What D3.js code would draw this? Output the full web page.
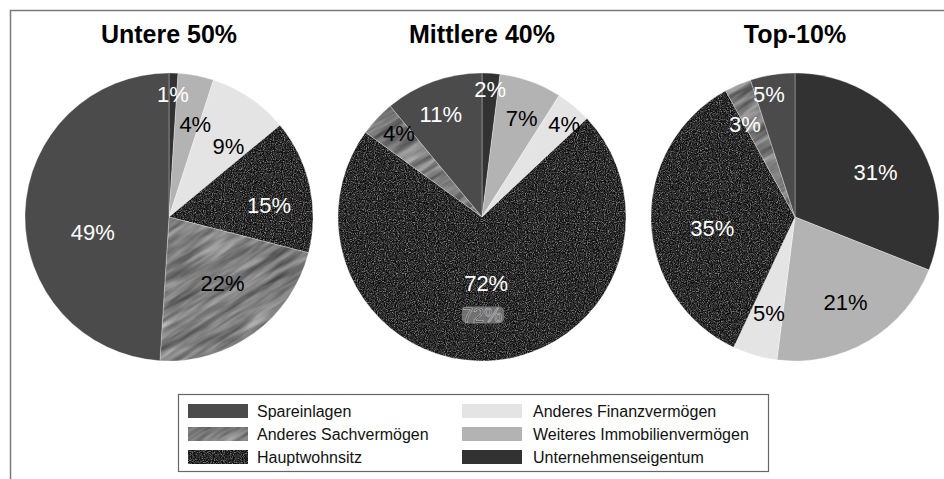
<!DOCTYPE html>
<html>
<head>
<meta charset="utf-8">
<script src="https://cdn.jsdelivr.net/npm/d3@7"></script>
<style>
    body { margin: 0; background: #fff; }
    text { font-family: "Liberation Sans", Arial, sans-serif; }
</style>
</head>
<body>
<div id="chart"></div>
<script>
// categories, clockwise from 12 o'clock
var series = ["Unternehmenseigentum", "Weiteres Immobilienvermögen", "Anderes Finanzvermögen",
    "Hauptwohnsitz", "Anderes Sachvermögen", "Spareinlagen"];
var groups = ["Untere 50%", "Mittlere 40%", "Top-10%"];

// shares in percent, same order as series
var untere50 = [1, 4, 9, 15, 22, 49];
var mittlere40 = [2, 7, 4, 72, 4, 11];
var top10 = [31, 21, 5, 35, 3, 5];

// legend layout: left column then right column
var legendOrder = ["Spareinlagen", "Anderes Sachvermögen", "Hauptwohnsitz",
    "Anderes Finanzvermögen", "Weiteres Immobilienvermögen", "Unternehmenseigentum"];

createPies("#chart", 944, 479);

function createPies(eleDiv, w, h) {
    var values = [untere50, mittlere40, top10];

    // label placement tweaks (radius as share of r, angle shift in degrees)
    var labelRad = [
        [0.85, 0.67, 0.64, 0.70, 0.59, 0.54],
        [0.89, 0.74, 0.86, 0.46, 0.82, 0.77],
        [0.64, 0.69, 0.69, 0.58, 0.73, 0.87]
    ];
    var labelShift = [
        [0, 5, 6, 6, -3, -13],
        [0, 2, 2, 0, 2, -2],
        [5, 0, -1, -6, -5, -3]
    ];
    var labelColor = [
        ["#fff", "#000", "#000", "#fff", "#000", "#fff"],
        ["#fff", "#000", "#000", "#fff", "#000", "#fff"],
        ["#fff", "#000", "#000", "#fff", "#fff", "#fff"]
    ];

    var svg = d3.select(eleDiv).append("svg")
        .attr("width", w)
        .attr("height", h);

    var defs = svg.append("defs");

    // speckled texture for Hauptwohnsitz
    var fNoise = defs.append("filter").attr("id", "fNoise")
        .attr("color-interpolation-filters", "sRGB")
        .attr("x", 0).attr("y", 0).attr("width", "100%").attr("height", "100%");
    fNoise.append("feTurbulence").attr("type", "fractalNoise")
        .attr("baseFrequency", 0.9).attr("numOctaves", 2).attr("seed", 4).attr("result", "n");
    fNoise.append("feColorMatrix").attr("in", "n").attr("type", "matrix")
        .attr("values", "0 0 0 0 0.05  0 0 0 0 0.05  0 0 0 0 0.05  5 0 0 0 -2.2").attr("result", "dk");
    fNoise.append("feColorMatrix").attr("in", "n").attr("type", "matrix")
        .attr("values", "0 0 0 0 0.5  0 0 0 0 0.5  0 0 0 0 0.5  -5 0 0 0 2.1").attr("result", "lt");
    var m = fNoise.append("feMerge");
    m.append("feMergeNode").attr("in", "SourceGraphic");
    m.append("feMergeNode").attr("in", "dk");
    m.append("feMergeNode").attr("in", "lt");

    // streaky texture for Anderes Sachvermögen
    var fStreak = defs.append("filter").attr("id", "fStreak")
        .attr("color-interpolation-filters", "sRGB")
        .attr("x", 0).attr("y", 0).attr("width", "100%").attr("height", "100%");
    fStreak.append("feTurbulence").attr("type", "fractalNoise")
        .attr("baseFrequency", "0.02 0.15").attr("numOctaves", 3).attr("seed", 7).attr("result", "n");
    fStreak.append("feColorMatrix").attr("in", "n").attr("type", "matrix")
        .attr("values", "0.6 0 0 0 0.19  0.6 0 0 0 0.19  0.6 0 0 0 0.19  0 0 0 0 1");

    defs.append("pattern").attr("id", "pHaupt")
        .attr("patternUnits", "userSpaceOnUse").attr("width", 400).attr("height", 400)
        .append("rect").attr("width", 400).attr("height", 400)
        .attr("fill", "#3a3a3a").attr("filter", "url(#fNoise)");

    defs.append("pattern").attr("id", "pSach")
        .attr("patternUnits", "userSpaceOnUse")
        .attr("x", -250).attr("width", 1000).attr("height", 1000)
        .attr("patternTransform", "rotate(-32)")
        .append("rect").attr("width", 1000).attr("height", 1000)
        .attr("fill", "#777").attr("filter", "url(#fStreak)");

    var color = d3.scaleOrdinal()
        .domain(series)
        .range(["#323232", "#b3b3b3", "#e4e4e4", "url(#pHaupt)", "url(#pSach)", "#4b4b4b"]);

    // frame (only top and left edge are visible)
    svg.append("path")
        .attr("d", "M10.5," + h + "V10.5H" + w)
        .attr("fill", "none")
        .attr("stroke", "#7a7a7a")
        .attr("stroke-width", 1.5);

    var cx = d3.scalePoint().domain(groups).range([169, 795]);
    var cy = 217, r = 144;

    var pie = d3.pie().sort(null).value(function (d) { return d.v; });
    var arc = d3.arc().innerRadius(0).outerRadius(r);

    groups.forEach(function (g, gi) {
        var data = series.map(function (s, i) { return { key: s, v: values[gi][i] }; });
        var arcs = pie(data);

        var pg = svg.append("g")
            .attr("transform", "translate(" + cx(g) + "," + cy + ")");

        pg.selectAll("path")
            .data(arcs)
            .enter().append("path")
            .attr("d", arc)
            .attr("fill", function (d) { return color(d.data.key); })
            .attr("stroke", "#fff")
            .attr("stroke-opacity", 0.5)
            .attr("stroke-width", 0.6);

        pg.selectAll(".lbl")
            .data(arcs)
            .enter().append("text")
            .attr("class", "lbl")
            .attr("transform", function (d, i) {
                var a = (d.startAngle + d.endAngle) / 2 + labelShift[gi][i] * Math.PI / 180;
                var rr = r * labelRad[gi][i];
                return "translate(" + (Math.sin(a) * rr) + "," + (-Math.cos(a) * rr) + ")";
            })
            .attr("text-anchor", "middle")
            .attr("dy", "0.35em")
            .style("font-size", "22px")
            .attr("fill", function (d, i) { return labelColor[gi][i]; })
            .text(function (d) { return d.data.v + "%"; });

        // title
        svg.append("text")
            .attr("x", cx(g))
            .attr("y", 43)
            .attr("text-anchor", "middle")
            .style("font-size", "25px")
            .style("font-weight", "bold")
            .attr("fill", "#000")
            .text(g);
    });

    // leftover duplicate label inside the middle pie
    var dup = svg.append("g")
        .attr("transform", "translate(" + cx(groups[1]) + "," + (cy + 98) + ")");
    dup.append("rect")
        .attr("x", -20).attr("y", -8.5).attr("width", 42).attr("height", 17).attr("rx", 5)
        .attr("fill", "#7c7c7c").attr("fill-opacity", 0.85);
    dup.append("text")
        .attr("text-anchor", "middle")
        .attr("dy", "0.35em")
        .style("font-size", "20px")
        .attr("fill", "#2e2e2e")
        .attr("stroke", "#cfcfcf")
        .attr("stroke-width", 0.6)
        .text(mittlere40[3] + "%");

    // legend
    var lg = svg.append("g");
    lg.append("rect")
        .attr("x", 178.5).attr("y", 394.5)
        .attr("width", 590).attr("height", 77)
        .attr("fill", "#fff")
        .attr("stroke", "#666")
        .attr("stroke-width", 1.2);

    var colX = d3.scaleOrdinal().domain([0, 1]).range([188, 462]);
    var rowY = d3.scalePoint().domain([0, 1, 2]).range([411, 457]);

    var items = lg.selectAll(".item")
        .data(legendOrder)
        .enter().append("g")
        .attr("class", "item")
        .attr("transform", function (d, i) {
            return "translate(" + colX(Math.floor(i / 3)) + "," + rowY(i % 3) + ")";
        });

    items.append("rect")
        .attr("x", 0).attr("y", -7)
        .attr("width", 60).attr("height", 14)
        .attr("fill", function (d) { return color(d); });

    items.append("text")
        .attr("x", function (d, i) { return i < 3 ? 69 : 71; })
        .attr("dy", "0.35em")
        .style("font-size", "16px")
        .attr("fill", "#111")
        .text(function (d) { return d; });
}
</script>
</body>
</html>
